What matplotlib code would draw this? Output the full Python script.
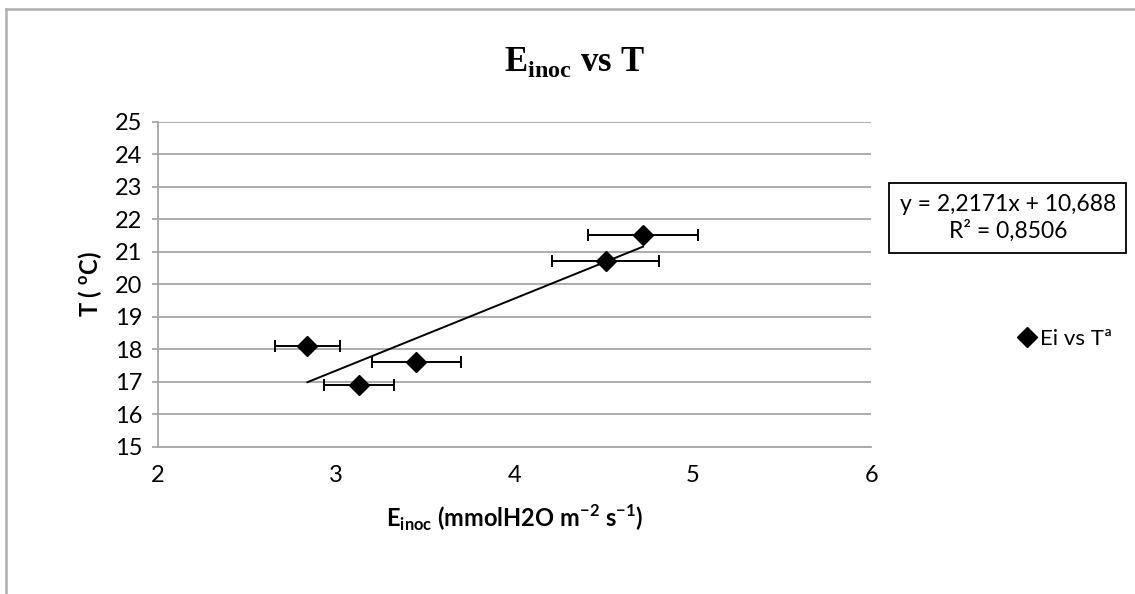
import numpy as np
import matplotlib
matplotlib.use('Agg')
import matplotlib.pyplot as plt
from matplotlib.lines import Line2D

# data
e_inoc = np.array([4.72, 4.51, 2.84, 3.45, 3.13])
temp = np.array([21.5, 20.7, 18.1, 17.6, 16.9])
e_err = np.array([0.31, 0.30, 0.18, 0.25, 0.195])
x_ticks = [2, 3, 4, 5, 6]
y_ticks = [15, 16, 17, 18, 19, 20, 21, 22, 23, 24, 25]
eq_text = 'y = 2,2171x + 10,688\nR² = 0,8506'
legend_label = 'Ei vs Tª'

plt.rcParams['font.family'] = ['Lato', 'DejaVu Sans']
plt.rcParams['mathtext.fontset'] = 'custom'
plt.rcParams['mathtext.rm'] = 'Liberation Serif:bold'
plt.rcParams['mathtext.bf'] = 'Lato:bold'

grid_col = '#a6a6a6'

fig = plt.figure(figsize=(11.35, 5.94), dpi=100)
ax = fig.add_axes([0.1388, 0.248, 0.629, 0.547])

# linear trendline (like excel's)
m, b = np.polyfit(e_inoc, temp, 1)
xl = np.array([e_inoc.min(), e_inoc.max()])
ax.plot(xl, m * xl + b, color='black', lw=1.4, zorder=3)

ax.errorbar(e_inoc, temp, xerr=e_err, fmt='D', color='black', ms=10,
            ecolor='black', elinewidth=1.4, capsize=4, capthick=1.4, zorder=4)

ax.set_xlim(2, 6)
ax.set_ylim(15, 25)
ax.set_xticks(x_ticks)
ax.set_yticks(y_ticks)
ax.grid(axis='y', color=grid_col, lw=1.3)
ax.set_axisbelow(True)
for s in ['top', 'right']:
    ax.spines[s].set_visible(False)
for s in ['left', 'bottom']:
    ax.spines[s].set_color(grid_col)
    ax.spines[s].set_linewidth(1.3)
ax.tick_params(axis='y', length=4, color=grid_col, width=1.3, labelsize=17, pad=7)
ax.tick_params(axis='x', length=0, labelsize=17, pad=13)

ax.set_xlabel(r'E$_{\mathbf{inoc}}$ (mmolH2O m$^{\mathbf{-2}}$ s$^{\mathbf{-1}}$)',
              fontsize=17, fontweight='bold', labelpad=12)
ax.set_ylabel(r'T ( $^{\mathbf{o}}$C)', fontsize=17, fontweight='bold', labelpad=8)

fig.text(0.506, 0.895, r'E$_{\mathrm{inoc}}$ vs T', family='Liberation Serif',
         fontweight='bold', fontsize=25, ha='center', va='center')

# equation box
fig.text(0.888, 0.633, eq_text, ha='center', va='center', fontsize=16.5,
         linespacing=1.3,
         bbox=dict(boxstyle='square,pad=0.45', fc='white', ec='black', lw=1.3))

# legend
h = Line2D([], [], marker='D', color='black', ls='none', ms=10)
fig.legend([h], [legend_label], loc='center left', bbox_to_anchor=(0.887, 0.43),
           frameon=False, fontsize=16, handletextpad=0.1, handlelength=1.0,
           borderaxespad=0)

# chart area border (only left/top visible in the source crop)
fig.add_artist(Line2D([0.0055, 0.0055], [0.0, 0.985], color='#b0b0b0', lw=1.8,
                      transform=fig.transFigure))
fig.add_artist(Line2D([0.0055, 1.0], [0.985, 0.985], color='#b0b0b0', lw=1.8,
                      transform=fig.transFigure))

fig.savefig('out.png', dpi=100)
